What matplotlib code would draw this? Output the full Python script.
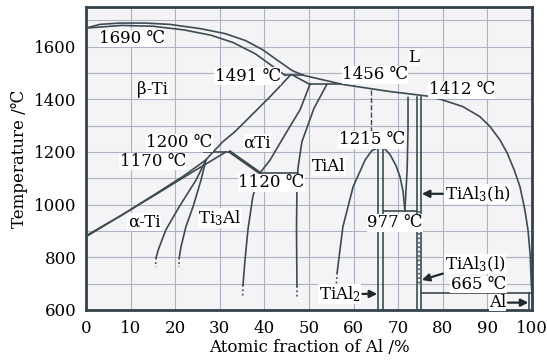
import matplotlib
matplotlib.use('Agg')
import matplotlib.pyplot as plt

plt.rcParams['font.family'] = ['DejaVu Serif', 'DejaVu Sans']
plt.rcParams['mathtext.fontset'] = 'dejavuserif'

# ---- phase boundaries (x = at.% Al, y = deg C) ----
liq_x = [0, 3.1, 7.6, 13.2, 18.8, 25.6, 31.2, 35.7, 39.5, 43.0, 46.2, 48.7, 57.6, 68.2, 76.5,
         79.8, 84.5, 88.3, 90.6, 92.8, 94.4, 96.0, 97.3, 98.4, 99.1, 99.6, 99.8, 100]
liq_t = [1670, 1684, 1689, 1689, 1684, 1668, 1649, 1623, 1589, 1547, 1509, 1491, 1456, 1429, 1412,
         1398, 1372, 1334, 1296, 1246, 1197, 1132, 1068, 980, 904, 809, 714, 660]

sol_x = [0, 8, 15, 22, 28, 33, 38, 42, 44.6]
sol_t = [1670, 1680, 1677, 1663, 1643, 1615, 1572, 1523, 1491]

beta_x = [45.8, 41.3, 36.8, 33.4, 30.7, 28.5, 26.9]
beta_t = [1491, 1410, 1334, 1277, 1239, 1200, 1170]

asol_x = [46.4, 50.2]
asol_t = [1491, 1456]

ag_x = [50.2, 48.0, 44.6, 41.3, 39.0]
ag_t = [1456, 1360, 1265, 1170, 1120]

gam_x = [54.0, 51.1, 48.4, 47.5, 47.3, 47.2, 47.3]
gam_t = [1456, 1365, 1238, 1135, 1068, 905, 690]

a2top_x = [32.3, 39.0]
a2top_t = [1200, 1120]

a2r_x = [39.0, 37.4, 36.3, 35.6, 35.2]
a2r_t = [1120, 1030, 904, 779, 695]

tiup_x = [0, 8, 16, 24, 31.4]
tiup_t = [882, 960, 1042, 1125, 1200]

tilo_x = [0, 8, 16, 22, 26.9]
tilo_t = [878, 960, 1045, 1110, 1170]

ati_x = [26.9, 24.7, 20.9, 17.9, 16.2, 15.7]
ati_t = [1170, 1094, 992, 904, 828, 798]

ti3_x = [26.9, 25.8, 24.0, 22.4, 21.3, 20.9]
ti3_t = [1170, 1094, 992, 916, 840, 798]

dome_x = [56.3, 57.6, 59.9, 62.6, 64.1, 65.5, 67.0, 68.2, 69.5, 70.4, 71.1, 71.5]
dome_t = [741, 916, 1068, 1170, 1205, 1216, 1212, 1189, 1148, 1106, 1049, 977]

l72_x = [72.2, 72.2, 72.0, 71.5]
l72_t = [1406, 1284, 1132, 977]

# horizontal invariant lines: (temperature, x start, x end)
iso_lines = [(1491, 44.6, 48.7), (1456, 50.2, 57.6), (1200, 26.5, 32.3),
             (1120, 39.0, 47.5), (977, 66.5, 74.2), (665, 75.1, 100)]

# vertical compound lines: (x, t top, t bottom)
vert_lines = [(65.4, 1215, 600), (66.5, 1212, 600), (74.2, 1408, 600),
              (75.1, 1408, 600), (99.4, 665, 600)]

# dotted continuations: (x top, t top, x bottom, t bottom)
dot_lines = [(15.7, 798, 15.6, 763), (20.9, 798, 20.8, 763), (35.2, 695, 35.1, 646),
             (47.3, 690, 47.3, 640), (56.3, 741, 56.1, 687), (74.65, 977, 74.65, 700)]

dash_x = [64.0, 64.0]
dash_t = [1436, 1265]

labels = [
    ('1690 ℃', 10.3, 1630), ('β-Ti', 15.0, 1436), ('1491 ℃', 36.3, 1488),
    ('L', 73.5, 1558), ('1456 ℃', 64.8, 1493), ('1412 ℃', 84.3, 1436),
    ('1200 ℃', 21.0, 1235), ('1170 ℃', 15.0, 1163), ('αTi', 38.3, 1235),
    ('1120 ℃', 41.5, 1083), ('TiAl', 54.5, 1144), ('1215 ℃', 64.1, 1246),
    ('α-Ti', 13.0, 935), ('Ti$_3$Al', 30.0, 950), ('977 ℃', 69.3, 931),
    ('665 ℃', 88.0, 697),
]

# arrow labels: text, text x, text y, arrow tip x, tip y, alignment
arrows = [
    ('TiAl$_3$(h)', 80.4, 1041, 75.3, 1041, 'left'),
    ('TiAl$_3$(l)', 80.4, 775, 75.3, 714, 'left'),
    ('Al', 94.2, 628, 99.2, 628, 'right'),
    ('TiAl$_2$', 61.6, 661, 65.3, 661, 'right'),
]

line_c = '#3c4b52'

fig = plt.figure(figsize=(5.47, 3.62), dpi=100)
ax = fig.add_axes([86 / 547, 52 / 362, 446 / 547, 303 / 362])
ax.set_facecolor('#f4f4f6')

for xs, ts in [(liq_x, liq_t), (sol_x, sol_t), (beta_x, beta_t), (asol_x, asol_t),
               (ag_x, ag_t), (gam_x, gam_t), (a2r_x, a2r_t), (tiup_x, tiup_t),
               (tilo_x, tilo_t), (ati_x, ati_t), (ti3_x, ti3_t), (dome_x, dome_t),
               (l72_x, l72_t)]:
    ax.plot(xs, ts, color=line_c, lw=1.2, zorder=3)

ax.plot(a2top_x, a2top_t, color=line_c, lw=2.2, zorder=3)

for t, x0, x1 in iso_lines:
    ax.plot([x0, x1], [t, t], color=line_c, lw=1.2, zorder=3)
for x, t0, t1 in vert_lines:
    ax.plot([x, x], [t0, t1], color=line_c, lw=1.2, zorder=3)
for x0, t0, x1, t1 in dot_lines:
    ax.plot([x0, x1], [t0, t1], color=line_c, lw=1.2, ls=':', zorder=3)
ax.plot(dash_x, dash_t, color=line_c, lw=1.0, ls='--', zorder=3)

for txt, x, y in labels:
    ax.text(x, y, txt, fontsize=12, ha='center', va='center', zorder=5,
            bbox=dict(facecolor='white', edgecolor='none', pad=0.3))

for txt, tx, ty, ax_, ay, ha in arrows:
    ax.annotate(txt, xy=(ax_, ay), xytext=(tx, ty), fontsize=12, ha=ha, va='center', zorder=5,
                bbox=dict(facecolor='white', edgecolor='none', pad=0.3),
                arrowprops=dict(arrowstyle='-|>', color='#1e2a30', lw=1.6, mutation_scale=11,
                                shrinkA=1, shrinkB=0))

ax.set_xlim(0, 100)
ax.set_ylim(600, 1750)
ax.set_xticks(range(0, 101, 10))
ax.set_yticks(range(600, 1601, 200))
ax.set_yticks(range(700, 1751, 200), minor=True)
ax.grid(True, which='both', color='#aeb1c4', lw=0.8)
ax.set_axisbelow(True)
ax.tick_params(which='both', length=0, labelsize=12, pad=7)
for s in ax.spines.values():
    s.set_linewidth(2.0)
    s.set_color('#33424a')

ax.set_xlabel('Atomic fraction of Al /%', fontsize=12, labelpad=2)
ax.set_ylabel('Temperature /℃', fontsize=12, labelpad=4)

fig.savefig('out.png', dpi=100)
